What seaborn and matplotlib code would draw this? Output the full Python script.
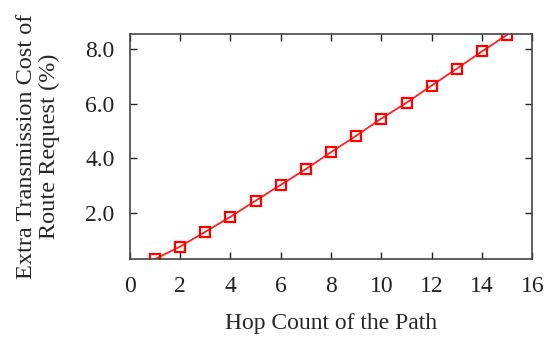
import numpy as np
import pandas as pd
import seaborn as sns
import matplotlib
matplotlib.use("Agg")
import matplotlib.pyplot as plt
from matplotlib.ticker import FormatStrFormatter

# data
hop_count = [1, 2, 3, 4, 5, 6, 7, 8, 9, 10, 11, 12, 13, 14, 15]
extra_cost = [0.30, 0.76, 1.30, 1.85, 2.44, 3.02, 3.60, 4.22, 4.82, 5.45,
              6.03, 6.66, 7.28, 7.91, 8.52]
x_ticks = [0, 2, 4, 6, 8, 10, 12, 14, 16]
y_ticks = [2.0, 4.0, 6.0, 8.0]

sns.set_style("ticks")
plt.rcParams['font.family'] = ['Liberation Serif', 'DejaVu Serif']

df = pd.DataFrame({'hop': hop_count, 'cost': extra_cost})

fig = plt.figure(figsize=(5.55, 3.4), dpi=100)
ax = fig.add_axes([0.234, 0.238, 0.725, 0.662])

sns.lineplot(data=df, x='hop', y='cost', ax=ax, color='#ff2020', lw=1.3,
             marker='s', markersize=7.5, markerfacecolor='none',
             markeredgecolor='#ff0000', markeredgewidth=1.6)

ax.set_xlim(0, 16)
ax.set_ylim(0.30, 8.55)
ax.set_xticks(x_ticks)
ax.set_yticks(y_ticks)
ax.yaxis.set_major_formatter(FormatStrFormatter('%.1f'))
ax.tick_params(direction='in', top=True, right=True, length=5, width=1,
               labelsize=17, colors='#222222')
ax.tick_params(axis='x', pad=12)
ax.tick_params(axis='y', pad=11)
for s in ax.spines.values():
    s.set_linewidth(1.2)
    s.set_color('#444444')

ax.set_xlabel('Hop Count of the Path', fontsize=17, labelpad=12)
ax.set_ylabel('Extra Transmission Cost of\nRoute Request (%)', fontsize=17.5,
              labelpad=18, linespacing=1.15)

fig.savefig('out.png', dpi=100)
